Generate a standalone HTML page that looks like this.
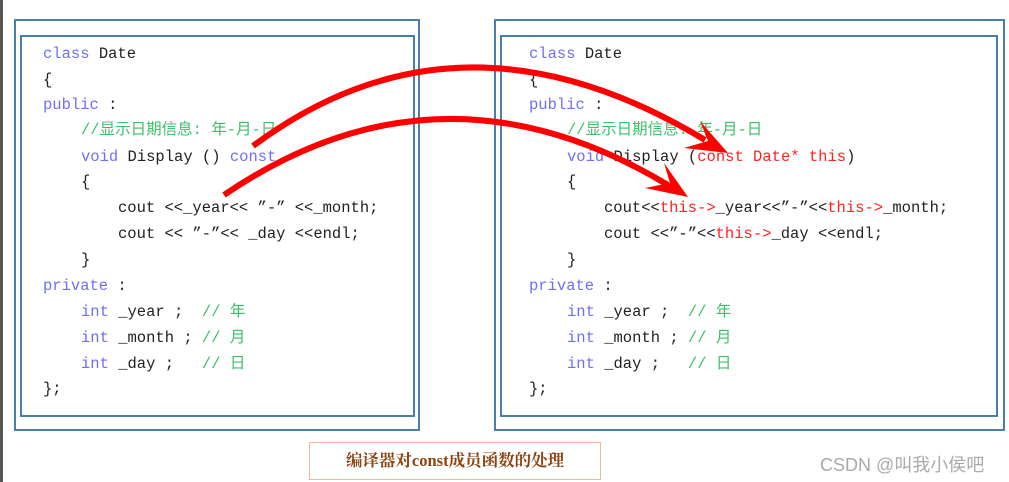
<!DOCTYPE html>
<html><head><meta charset="utf-8"><style>
body{margin:0;width:1009px;height:482px;background:#fff;position:relative;overflow:hidden;font-family:"Liberation Mono","Noto Sans CJK SC",monospace;}
.b{position:absolute;border:2px solid #4a7fab;box-sizing:border-box}
.l{position:absolute;white-space:pre;font-size:15.5px;line-height:18px;color:#222}
.k{color:#6f6ff5}.c{color:#3cbf6a}.r{color:#f22}
</style></head><body>
<div style="position:absolute;left:0;top:0;width:3px;height:482px;background:#555"></div>
<div class="b" style="left:14px;top:19px;width:406px;height:412px"></div>
<div class="b" style="left:20px;top:35px;width:395px;height:382px"></div>
<div class="b" style="left:494px;top:19px;width:511px;height:412px"></div>
<div class="b" style="left:500px;top:35px;width:498px;height:382px"></div>

<div class="l" style="left:43px;top:45px"><span class="k">class</span> Date</div>
<div class="l" style="left:43px;top:71px">{</div>
<div class="l" style="left:43px;top:96px"><span class="k">public</span> :</div>
<div class="l" style="left:81px;top:121px"><span class="c">//显示日期信息: 年-月-日</span></div>
<div class="l" style="left:81px;top:148px"><span class="k">void</span> Display () <span class="k">const</span></div>
<div class="l" style="left:81px;top:173px">{</div>
<div class="l" style="left:118px;top:199px">cout &lt;&lt;_year&lt;&lt; ”-” &lt;&lt;_month;</div>
<div class="l" style="left:118px;top:225px">cout &lt;&lt; ”-”&lt;&lt; _day &lt;&lt;endl;</div>
<div class="l" style="left:81px;top:251px">}</div>
<div class="l" style="left:43px;top:277px"><span class="k">private</span> :</div>
<div class="l" style="left:81px;top:303px"><span class="k">int</span> _year ;  <span class="c">// 年</span></div>
<div class="l" style="left:81px;top:329px"><span class="k">int</span> _month ; <span class="c">// 月</span></div>
<div class="l" style="left:81px;top:355px"><span class="k">int</span> _day ;   <span class="c">// 日</span></div>
<div class="l" style="left:43px;top:380px">};</div>

<div class="l" style="left:529px;top:45px"><span class="k">class</span> Date</div>
<div class="l" style="left:529px;top:71px">{</div>
<div class="l" style="left:529px;top:96px"><span class="k">public</span> :</div>
<div class="l" style="left:567px;top:121px"><span class="c">//显示日期信息: 年-月-日</span></div>
<div class="l" style="left:567px;top:148px"><span class="k">void</span> Display (<span class="r">const Date* this</span>)</div>
<div class="l" style="left:567px;top:173px">{</div>
<div class="l" style="left:604px;top:199px">cout&lt;&lt;<span class="r">this-&gt;</span>_year&lt;&lt;”-”&lt;&lt;<span class="r">this-&gt;</span>_month;</div>
<div class="l" style="left:604px;top:225px">cout &lt;&lt;”-”&lt;&lt;<span class="r">this-&gt;</span>_day &lt;&lt;endl;</div>
<div class="l" style="left:567px;top:251px">}</div>
<div class="l" style="left:529px;top:277px"><span class="k">private</span> :</div>
<div class="l" style="left:567px;top:303px"><span class="k">int</span> _year ;  <span class="c">// 年</span></div>
<div class="l" style="left:567px;top:329px"><span class="k">int</span> _month ; <span class="c">// 月</span></div>
<div class="l" style="left:567px;top:355px"><span class="k">int</span> _day ;   <span class="c">// 日</span></div>
<div class="l" style="left:529px;top:380px">};</div>

<svg style="position:absolute;left:0;top:0" width="1009" height="482">
<path d="M253,146 Q460,-8 705,140" fill="none" stroke="#f00" stroke-width="6"/>
<polygon points="728,153 700,121 708,141 684,148" fill="#f00"/>
<path d="M224,195 Q440,48 668,185" fill="none" stroke="#f00" stroke-width="6"/>
<polygon points="688,197 664,163 670,183 645,188" fill="#f00"/>
</svg>

<div style="position:absolute;left:309px;top:442px;width:292px;height:38px;border:1px solid #f4b49a;box-sizing:border-box;text-align:center;line-height:36px;font-size:16.5px;font-weight:bold;color:#8b4513;font-family:'Liberation Serif','Noto Serif CJK SC',serif">编译器对const成员函数的处理</div>
<div style="position:absolute;left:820px;top:451px;font-size:18px;color:#aaa;font-family:'Liberation Sans','Noto Sans CJK SC',sans-serif">CSDN @叫我小侯吧</div>
</body></html>
